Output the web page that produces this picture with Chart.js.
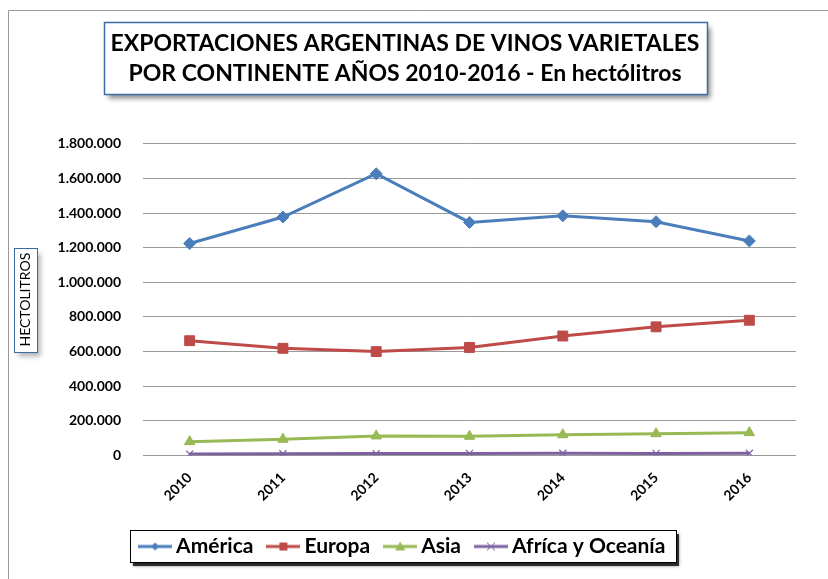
<!DOCTYPE html>
<html><head><meta charset="utf-8">
<script src="https://cdn.jsdelivr.net/npm/chart.js@4/dist/chart.umd.min.js"></script>
<style>html,body{margin:0;padding:0;background:#fff}canvas{display:block}</style>
</head><body>
<canvas id="c" width="828" height="579"></canvas>
<script>
// ---- data ----
const years = ['2010', '2011', '2012', '2013', '2014', '2015', '2016'];
const america = [1224000, 1377000, 1627000, 1346000, 1384000, 1350000, 1239000];
const europa = [663000, 619000, 600000, 624000, 690000, 743000, 781000];
const asia = [80000, 94000, 113000, 111000, 120000, 126000, 132000];
const africaOceania = [8000, 10000, 11000, 12000, 13000, 12000, 13000];
const seriesNames = ['América', 'Europa', 'Asia', 'Afríca y Oceanía'];
const titleLines = ['EXPORTACIONES ARGENTINAS DE VINOS VARIETALES', 'POR CONTINENTE AÑOS 2010-2016 - En hectólitros'];
const yAxisTitle = 'HECTOLITROS';
const yMin = 0, yMax = 1800000, yStep = 200000;

// ---- styling ----
const FONT = 'Lato, "Liberation Sans", sans-serif';
const colors = ['#4a7ebb', '#be4b48', '#98b954', '#7d60a0'];
const styles = ['rectRot', 'rect', 'triangle', 'crossRot'];
const radii = [6, 7, 6, 5];

function fmt(v) {
  return String(Math.round(v)).replace(/\B(?=(\d{3})+(?!\d))/g, '.');
}

function makeIcon(i) {
  const c = document.createElement('canvas');
  c.width = 34; c.height = 14;
  const g = c.getContext('2d');
  g.strokeStyle = colors[i]; g.lineWidth = 3;
  g.beginPath(); g.moveTo(0, 7); g.lineTo(34, 7); g.stroke();
  g.fillStyle = colors[i];
  const cx = 17, cy = 7;
  if (i === 0) { g.beginPath(); g.moveTo(cx, cy - 4); g.lineTo(cx + 4, cy); g.lineTo(cx, cy + 4); g.lineTo(cx - 4, cy); g.closePath(); g.fill(); }
  else if (i === 1) { g.fillRect(cx - 4, cy - 4, 8, 8); }
  else if (i === 2) { g.beginPath(); g.moveTo(cx, cy - 5); g.lineTo(cx + 5, cy + 4); g.lineTo(cx - 5, cy + 4); g.closePath(); g.fill(); }
  else { g.lineWidth = 1; g.beginPath(); g.moveTo(cx - 4, cy - 4); g.lineTo(cx + 4, cy + 4); g.moveTo(cx + 4, cy - 4); g.lineTo(cx - 4, cy + 4); g.stroke(); }
  return c;
}
const legendIcons = [0, 1, 2, 3].map(makeIcon);

const seriesData = [america, europa, asia, africaOceania];
const datasets = seriesData.map((d, i) => ({
  label: seriesNames[i],
  data: d,
  borderColor: colors[i],
  backgroundColor: colors[i],
  borderWidth: 3,
  pointStyle: styles[i],
  pointRadius: radii[i],
  pointHoverRadius: radii[i],
  pointBorderWidth: i === 3 ? 1.2 : 1,
  pointBorderColor: colors[i],
  pointBackgroundColor: colors[i],
  tension: 0
}));

function shadowBox(ctx, x, y, w, h, stroke, lw, shadow) {
  ctx.save();
  ctx.shadowColor = shadow;
  ctx.shadowBlur = 5;
  ctx.shadowOffsetX = 3;
  ctx.shadowOffsetY = 4;
  ctx.fillStyle = '#fff';
  ctx.fillRect(x, y, w, h);
  ctx.restore();
  ctx.save();
  ctx.strokeStyle = stroke; ctx.lineWidth = lw;
  ctx.strokeRect(x, y, w, h);
  ctx.restore();
}

const decor = {
  id: 'decor',
  beforeDraw(chart) {
    const ctx = chart.ctx;
    // outer frame
    ctx.save();
    ctx.strokeStyle = '#9a9a9a'; ctx.lineWidth = 1;
    ctx.beginPath(); ctx.moveTo(8.5, 579); ctx.lineTo(8.5, 10.5); ctx.lineTo(828, 10.5); ctx.stroke();
    ctx.restore();
    // title box
    const tb = chart.titleBlock;
    ctx.save();
    ctx.font = 'bold 23px ' + FONT;
    const tw = Math.max(...titleLines.map(t => ctx.measureText(t).width));
    ctx.restore();
    const tcx = (tb.left + tb.right) / 2;
    shadowBox(ctx, Math.round(tcx - tw / 2 - 7) + 0.5, 22.5, Math.round(tw + 14), 72, '#3c6aa6', 1.5, 'rgba(0,0,0,0.45)');
    // y-axis title box
    const ys = chart.scales.y;
    ctx.save();
    ctx.font = '14px ' + FONT;
    const aw = ctx.measureText(yAxisTitle).width;
    ctx.restore();
    const acy = (ys.top + ys.bottom) / 2;
    shadowBox(ctx, 14.5, Math.round(acy - aw / 2 - 5) + 0.5, 23, Math.round(aw + 10), '#3c6aa6', 1, 'rgba(0,0,0,0.3)');
    // legend box
    const hb = chart.legend.legendHitBoxes;
    if (hb && hb.length) {
      const l = hb[0].left - 15;
      const r = hb[hb.length - 1].left + hb[hb.length - 1].width + 10;
      const t = hb[0].top - 6;
      const b = hb[0].top + hb[0].height + 5;
      ctx.save();
      ctx.fillStyle = 'rgba(0,0,0,0.75)';
      ctx.shadowColor = 'rgba(0,0,0,0.6)'; ctx.shadowBlur = 3;
      ctx.fillRect(Math.round(l) + 3, Math.round(t) + 4, Math.round(r - l), Math.round(b - t));
      ctx.restore();
      ctx.save();
      ctx.fillStyle = '#fff';
      ctx.fillRect(Math.round(l) + 0.5, Math.round(t) + 0.5, Math.round(r - l), Math.round(b - t));
      ctx.strokeStyle = '#000'; ctx.lineWidth = 1;
      ctx.strokeRect(Math.round(l) + 0.5, Math.round(t) + 0.5, Math.round(r - l), Math.round(b - t));
      ctx.restore();
    }
  }
};

new Chart(document.getElementById('c'), {
  type: 'line',
  data: { labels: years, datasets },
  plugins: [decor],
  options: {
    responsive: false,
    animation: false,
    events: [],
    layout: { padding: { left: 14, right: 32, top: 14, bottom: 12 } },
    plugins: {
      title: {
        display: true,
        text: titleLines,
        color: '#000',
        font: { family: FONT, size: 23, weight: 'bold', lineHeight: 1.3 },
        padding: { top: 15, bottom: 55 }
      },
      legend: {
        position: 'bottom',
        labels: {
          usePointStyle: true,
          pointStyleWidth: 21,
          color: '#000',
          font: { family: FONT, size: 21, weight: 'bold' },
          padding: 19.5,
          generateLabels(chart) {
            const items = Chart.defaults.plugins.legend.labels.generateLabels(chart);
            items.forEach((it, i) => { it.pointStyle = legendIcons[i]; });
            return items;
          }
        }
      },
      tooltip: { enabled: false }
    },
    scales: {
      x: {
        offset: true,
        grid: { display: false },
        border: { display: false },
        ticks: {
          color: '#000',
          font: { family: FONT, size: 14, weight: 'bold' },
          maxRotation: 45, minRotation: 45, padding: 6
        },
        afterFit(s) { s.height = 61; }
      },
      y: {
        min: yMin, max: yMax,
        border: { display: false },
        grid: { color: '#9a9a9a', lineWidth: 1, drawTicks: false },
        ticks: {
          stepSize: yStep,
          color: '#000',
          padding: 22,
          font: { family: FONT, size: 14, weight: 'bold' },
          callback: v => fmt(v)
        },
        title: {
          display: true,
          text: yAxisTitle,
          color: '#000',
          font: { family: FONT, size: 14 },
          padding: { top: 3, bottom: 4 }
        },
        afterFit(s) { s.width = 129; }
      }
    }
  }
});
</script>
</body></html>
